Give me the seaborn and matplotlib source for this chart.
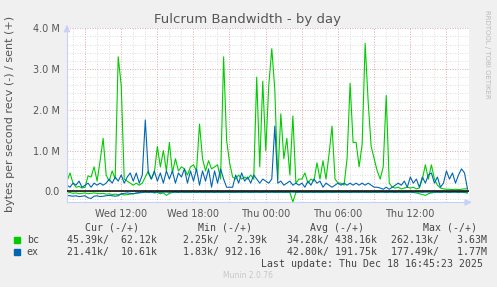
import matplotlib
matplotlib.use("Agg")
import numpy as np
import pandas as pd
import seaborn as sns
import matplotlib.pyplot as plt
from matplotlib.patches import Rectangle

# ---------------- data ----------------
start_time = "2025-12-17 07:31"      # 15-minute samples
n_points = 134

# sent (+), MB/s
bc_sent = [0.25, 0.45, 0.2, 0.1, 0.12, 0.08, 0.1, 0.38, 0.35, 0.6,
           0.25, 0.75, 1.3, 0.4, 0.25, 0.5, 0.3, 3.3, 2.6, 0.3,
           0.25, 0.2, 0.15, 0.2, 0.15, 0.2, 0.35, 0.5, 0.3, 0.45,
           1.1, 0.6, 1.0, 0.5, 1.2, 0.45, 0.8, 0.5, 0.6, 0.55,
           0.4, 0.6, 0.65, 0.5, 1.65, 0.8, 0.5, 0.75, 0.55, 0.6,
           0.65, 0.3, 3.3, 1.25, 0.7, 0.35, 0.3, 0.4, 0.3, 0.35,
           0.3, 0.4, 0.3, 2.8, 0.6, 2.7, 1.0, 2.6, 3.5, 2.5,
           0.3, 1.9, 0.8, 1.3, 0.4, 1.85, 0.2, 0.3, 0.3, 0.45,
           0.2, 0.3, 0.25, 0.7, 0.3, 0.75, 0.3, 0.9, 1.6, 0.3,
           0.2, 0.2, 0.15, 0.8, 2.65, 1.2, 1.2, 0.6, 1.15, 3.63,
           2.2, 1.1, 0.8, 0.5, 0.3, 0.6, 2.35, 0.2, 0.1, 0.08,
           0.1, 0.06, 0.08, 0.1, 0.08, 0.1, 0.06, 0.08, 0.3, 0.65,
           0.3, 0.65, 0.3, 0.15, 0.08, 0.06, 0.05, 0.05, 0.04, 0.05,
           0.04, 0.05, 0.06, 0.06]
ex_sent = [0.15, 0.1, 0.2, 0.15, 0.25, 0.1, 0.15, 0.2, 0.1, 0.2,
           0.15, 0.2, 0.15, 0.2, 0.3, 0.2, 0.35, 0.25, 0.4, 0.2,
           0.35, 0.45, 0.25, 0.45, 0.2, 0.4, 1.75, 0.45, 0.3, 0.5,
           0.25, 0.45, 0.2, 0.5, 0.3, 0.5, 0.2, 0.45, 0.35, 0.55,
           0.2, 0.5, 0.25, 0.55, 0.15, 0.5, 0.25, 0.55, 0.1, 0.5,
           0.2, 0.55, 0.3, 0.1, 0.1, 0.1, 0.4, 0.2, 0.45, 0.25,
           0.35, 0.2, 0.4, 0.3, 0.2, 0.3, 0.25, 0.2, 0.3, 1.6,
           0.2, 0.25, 0.15, 0.2, 0.25, 0.15, 0.2, 0.15, 0.2, 0.1,
           0.25, 0.15, 0.3, 0.2, 0.25, 0.1, 0.2, 0.15, 0.1, 0.15,
           0.2, 0.15, 0.2, 0.15, 0.2, 0.15, 0.2, 0.15, 0.2, 0.15,
           0.2, 0.15, 0.1, 0.1, 0.08, 0.05, 0.1, 0.05, 0.1, 0.15,
           0.2, 0.15, 0.25, 0.1, 0.35, 0.2, 0.3, 0.1, 0.35, 0.2,
           0.4, 0.45, 0.2, 0.35, 0.1, 0.2, 0.5, 0.3, 0.45, 0.2,
           0.4, 0.55, 0.45, 0.05]
# recv (-), kB/s
bc_recv = [-40, -30, -50, -40, -60, -50, -40, -60, -50, -40,
           -50, -60, -50, -70, -60, -80, -70, -80, -70, -90,
           -80, -70, -60, -50, -40, -30, -20, -30, -20, -40,
           -30, -60, -40, -100, -50, -30, -20, -30, -20, -30,
           -20, -30, -20, -30, -20, -30, -20, -30, -20, -30,
           -20, -30, -20, -20, -30, -20, -30, -20, -25, -20,
           -25, -20, -30, -20, -25, -30, -20, -25, -20, -30,
           -20, -25, -30, -20, -25, -262, -30, -20, -25, -20,
           -30, -20, -25, -20, -30, -20, -25, -20, -20, -25,
           -20, -20, -25, -20, -30, -20, -25, -20, -20, -25,
           -20, -30, -20, -25, -20, -20, -25, -20, -20, -25,
           -20, -30, -20, -25, -20, -30, -40, -60, -80, -100,
           -60, -40, -30, -20, -25, -20, -20, -25, -20, -20,
           -25, -20, -30, -45]
ex_recv = [-100, -110, -120, -110, -130, -120, -110, -160, -175, -120,
           -110, -130, -120, -110, -100, -110, -120, -110, -60, -50,
           -40, -50, -60, -40, -30, -30, -20, -25, -20, -30,
           -20, -25, -20, -20, -25, -20, -20, -25, -20, -20,
           -25, -20, -20, -25, -20, -20, -25, -20, -20, -25,
           -20, -20, -25, -20, -20, -25, -20, -20, -25, -20,
           -20, -25, -20, -20, -25, -20, -20, -25, -20, -20,
           -25, -20, -20, -25, -20, -20, -25, -20, -20, -25,
           -20, -20, -25, -20, -20, -25, -20, -20, -25, -20,
           -20, -25, -20, -20, -25, -20, -20, -25, -20, -20,
           -25, -20, -20, -25, -20, -20, -25, -20, -20, -25,
           -20, -20, -25, -20, -20, -25, -20, -20, -25, -20,
           -20, -25, -20, -20, -25, -20, -20, -25, -20, -20,
           -25, -20, -20, -21]

series_names = ["bc", "ex"]
series_colors = ["#00CC00", "#0066B3"]

ytick_values = [0, 1e6, 2e6, 3e6, 4e6]
ytick_labels = ["0.0", "1.0 M", "2.0 M", "3.0 M", "4.0 M"]
xtick_times = ["2025-12-17 09:00", "2025-12-17 12:00", "2025-12-17 15:00",
               "2025-12-17 18:00", "2025-12-17 21:00", "2025-12-18 00:00",
               "2025-12-18 03:00", "2025-12-18 06:00", "2025-12-18 09:00",
               "2025-12-18 12:00", "2025-12-18 15:00"]
xtick_labels = ["", "Wed 12:00", "", "Wed 18:00", "", "Thu 00:00",
                "", "Thu 06:00", "", "Thu 12:00", ""]

legend_header = ["Cur (-/+)", "Min (-/+)", "Avg (-/+)", "Max (-/+)"]
legend_rows = {
    "bc": ["45.39k/  62.12k", "2.25k/   2.39k", "34.28k/ 438.16k", "262.13k/   3.63M"],
    "ex": ["21.41k/  10.61k", "1.83k/ 912.16", "42.80k/ 191.75k", "177.49k/   1.77M"],
}

# ---------------- figure ----------------
sns.set_style("white")
plt.rcParams['font.family'] = ['DejaVu Sans']

W, H = 497, 287
fig = plt.figure(figsize=(W / 100, H / 100), dpi=100, facecolor="#F0F0F0")
ax_l, ax_r, ax_t, ax_b = 67, 468.5, 28.3, 202.3
ax = fig.add_axes([ax_l / W, 1 - ax_b / H, (ax_r - ax_l) / W, (ax_b - ax_t) / H])
ax.set_facecolor("white")

times = pd.date_range(start_time, periods=n_points, freq="15min")
df = pd.DataFrame({
    "time": times,
    "bc_sent": np.array(bc_sent) * 1e6,
    "ex_sent": np.array(ex_sent) * 1e6,
    "bc_recv": np.array(bc_recv) * 1e3,
    "ex_recv": np.array(ex_recv) * 1e3,
})

# grid
x0 = pd.Timestamp("2025-12-17 07:31")
x1 = x0 + pd.Timedelta(hours=33.33)
minor_x = pd.date_range("2025-12-17 08:00", "2025-12-18 16:00", freq="1h")
for t in minor_x:
    ax.axvline(t, color="#D4D4D4", lw=0.6, ls=(0, (1, 2)), zorder=0)
for t in pd.to_datetime(xtick_times):
    ax.axvline(t, color="#EFA0A0", lw=0.6, ls=(0, (1, 2)), zorder=0.5)
for v in np.arange(-0.2e6, 4.01e6, 0.2e6):
    ax.axhline(v, color="#D4D4D4", lw=0.6, ls=(0, (1, 2)), zorder=0)
for v in ytick_values:
    ax.axhline(v, color="#EFA0A0", lw=0.6, ls=(0, (1, 2)), zorder=0.5)

# lines
for name, col in zip(series_names, series_colors):
    sns.lineplot(data=df, x="time", y=f"{name}_recv", ax=ax, color=col, lw=0.8, zorder=2)
    sns.lineplot(data=df, x="time", y=f"{name}_sent", ax=ax, color=col, lw=0.8, zorder=2)
ax.axhline(0, color="black", lw=1.1, zorder=3)

ax.set_xlim(x0, x1)
ax.set_ylim(-0.27e6, 4.0e6)
ax.set_xlabel("")
ax.set_ylabel("")
ax.set_yticks(ytick_values)
ax.set_yticklabels(ytick_labels)
ax.set_xticks(pd.to_datetime(xtick_times))
ax.set_xticklabels(xtick_labels)
ax.tick_params(axis="y", length=0, pad=5, labelsize=7, labelcolor="#555555")
ax.tick_params(axis="x", length=2, width=0.6, color="#EFA0A0", pad=3,
               labelsize=7, labelcolor="#555555")
for s in ["top", "right"]:
    ax.spines[s].set_visible(False)
for s in ["left", "bottom"]:
    ax.spines[s].set_color("#C8D0F8")
    ax.spines[s].set_linewidth(0.8)
ax.annotate("", xy=(1.015, 0), xytext=(0.99, 0), xycoords="axes fraction",
            arrowprops=dict(arrowstyle="-|>,head_length=0.4,head_width=0.2",
                            color="#C8D0F8", lw=0.8))
ax.annotate("", xy=(0, 1.035), xytext=(0, 0.99), xycoords="axes fraction",
            arrowprops=dict(arrowstyle="-|>,head_length=0.4,head_width=0.2",
                            color="#C8D0F8", lw=0.8))

# texts
def ft(x, y, s, **kw):
    fig.text(x / W, 1 - y / H, s, **kw)

ft(248, 19.5, "Fulcrum Bandwidth - by day", ha="center", va="center",
   size=9.5, color="#555555")
ft(10.5, 114, "bytes per second recv (-) / sent (+)", rotation=90,
   ha="center", va="center", size=8, color="#555555")
ft(487.5, 54, "RRDTOOL / TOBI OETIKER", rotation=270, ha="center",
   va="center", size=5, color="#BBBBBB")

mono = dict(family="DejaVu Sans Mono", size=7.1, color="#444444", va="center")
col_x = [85, 197.7, 310, 422.7]
for x, s in zip(col_x, legend_header):
    ft(x, 228, s, ha="left", **mono)
val_x = [66.7, 182.7, 286.7, 390.7]
for row_y, name, col in zip([240, 252], series_names, series_colors):
    fig.add_artist(Rectangle((14 / W, 1 - (row_y + 3) / H), 6 / W, 6 / H,
                             transform=fig.transFigure, color=col))
    ft(26.7, row_y, name, ha="left", **mono)
    for x, s in zip(val_x, legend_rows[name]):
        ft(x, row_y, s, ha="left", **mono)
ft(483, 264, "Last update: Thu Dec 18 16:45:23 2025", ha="right", **mono)
ft(248, 276, "Munin 2.0.76", ha="center", va="center", size=5.5, color="#C8C8C8")

fig.savefig("out.png", dpi=100, facecolor=fig.get_facecolor())
